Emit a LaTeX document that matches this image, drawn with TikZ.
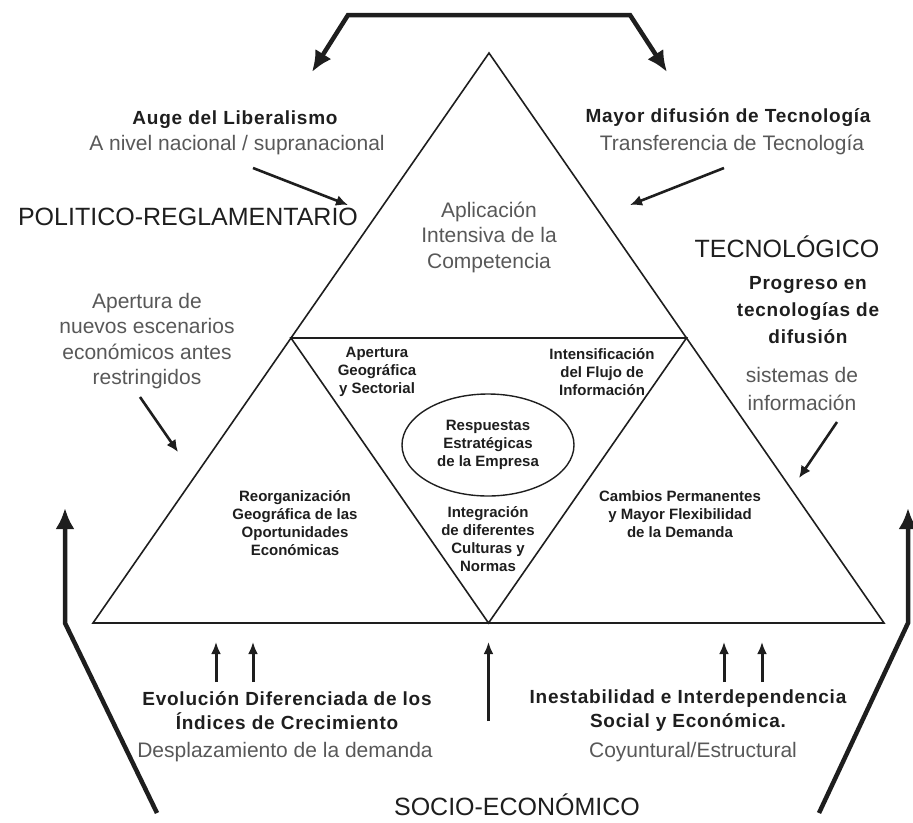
\documentclass[tikz,border=0pt]{standalone}
\usepackage{fontspec}
\setmainfont{Liberation Sans}
\newfontfamily\widesans[LetterSpace=4]{Liberation Sans}
\usetikzlibrary{arrows.meta,shapes.geometric}
\definecolor{ink}{HTML}{1E1E1E}
\definecolor{txtgray}{HTML}{585858}

\begin{document}
\begin{tikzpicture}[x=1pt, y=-1pt,
    tri/.style={draw=ink, line width=1.6pt},
    bigarrow/.style={draw=ink, line width=4.5pt, -{Latex[length=21pt,width=19pt]}},
    pointer/.style={draw=ink, line width=2.6pt, -{Latex[length=12pt,width=11pt]}},
    uparrow/.style={draw=ink, line width=3pt, -{Latex[length=12pt,width=10pt]}},
    headtxt/.style={text=ink, font=\widesans\bfseries\fontsize{19}{24}\selectfont, align=center, inner sep=0pt},
    subtxt/.style={text=txtgray, font=\fontsize{21}{25.5}\selectfont, align=center, inner sep=0pt},
    areatxt/.style={text=ink, font=\fontsize{25}{30}\selectfont, inner sep=0pt},
    innertxt/.style={text=ink, font=\bfseries\fontsize{15}{18}\selectfont, align=center, inner sep=0pt}
]
\useasboundingbox (0,0) rectangle (913,822);

% triangle
\coordinate (apex) at (489,53);
\coordinate (bl) at (93,623);
\coordinate (br) at (884,623);
\coordinate (ml) at (291,338);
\coordinate (mr) at (686.5,338);
\coordinate (mb) at (488.5,623);
\draw[tri] (apex) -- (bl) -- (br) -- cycle;
\draw[tri] (ml) -- (mr) -- (mb) -- cycle;

% inner fields
\node[innertxt] (apgeo) at (377,372) {Apertura\\Geográfica\\y Sectorial};
\node[innertxt] (flujo) at (602,372) {Intensificación\\del Flujo de\\Información};
\node[innertxt, draw=ink, line width=1.4pt, ellipse, minimum width=172pt, minimum height=102pt] (resp) at (488,445) {Respuestas\\Estratégicas\\de la Empresa};
\node[innertxt] (integ) at (488,539) {Integración\\de diferentes\\Culturas y\\Normas};
\node[innertxt] (reorg) at (295,523) {Reorganización\\Geográfica de las\\Oportunidades\\Económicas};
\node[innertxt] (cambios) at (680,514) {Cambios Permanentes\\y Mayor Flexibilidad\\de la Demanda};
\node[subtxt] (aplic) at (489,237) {Aplicación\\Intensiva de la\\Competencia};

% political side
\node[headtxt] (auge) at (235,120) {Auge del Liberalismo};
\node[subtxt] (nivel) at (237,145) {A nivel nacional / supranacional};
\node[areatxt] (polit) at (188,217) {POLITICO-REGLAMENTARIO};
\node[subtxt] (escen) at (147,341) {Apertura de\\nuevos escenarios\\económicos antes\\restringidos};

% technological side
\node[headtxt] (difus) at (728,118) {Mayor difusión de Tecnología};
\node[subtxt] (transf) at (732,145) {Transferencia de Tecnología};
\node[areatxt] (tecno) at (787,247) {TECNOLÓGICO};
\node[headtxt, font=\widesans\bfseries\fontsize{19}{27}\selectfont] (progr) at (808,310) {Progreso en\\tecnologías de\\difusión};
\node[subtxt, font=\fontsize{21}{28}\selectfont] (sist) at (802,389) {sistemas de\\información};

% socio-economic side
\node[headtxt] (evol) at (287,711) {Evolución Diferenciada de los\\Índices de Crecimiento};
\node[subtxt] (despl) at (285,752) {Desplazamiento de la demanda};
\node[headtxt] (inest) at (688,711) {Inestabilidad e Interdependencia\\Social y Económica.};
\node[subtxt] (coyun) at (693,752) {Coyuntural/Estructural};
\node[areatxt] (socio) at (517,805) {SOCIO-ECONÓMICO};

% pointers
\coordinate (p1s) at (253,168); \coordinate (p1e) at (348,205);
\coordinate (p2s) at (724,168); \coordinate (p2e) at (630,205);
\coordinate (p3s) at (140,397); \coordinate (p3e) at (178,452);
\coordinate (p4s) at (837,422); \coordinate (p4e) at (799,478);
\draw[pointer] (p1s) -- (p1e);
\draw[pointer] (p2s) -- (p2e);
\draw[pointer] (p3s) -- (p3e);
\draw[pointer] (p4s) -- (p4e);

% upward arrows below the base
\foreach \x/\y in {216/682, 253/682, 488.5/721, 724/682, 762/682}
    \draw[uparrow] (\x,\y) -- (\x,642);

% big connectors between the three fields
\coordinate (tl) at (312,72);
\coordinate (tlc) at (348,15);
\coordinate (trc) at (630,15);
\coordinate (tr) at (667,72);
\draw[bigarrow, {Latex[length=21pt,width=19pt]}-{Latex[length=21pt,width=19pt]}, line join=miter] (tl) -- (tlc) -- (trc) -- (tr);
\coordinate (lbot) at (157,813);
\coordinate (lbend) at (65,623);
\coordinate (ltop) at (65,508);
\coordinate (rbot) at (819,813);
\coordinate (rbend) at (908,623);
\coordinate (rtop) at (908,508);
\draw[bigarrow, line join=miter] (lbot) -- (lbend) -- (ltop);
\draw[bigarrow, line join=miter] (rbot) -- (rbend) -- (rtop);
\end{tikzpicture}
\end{document}
